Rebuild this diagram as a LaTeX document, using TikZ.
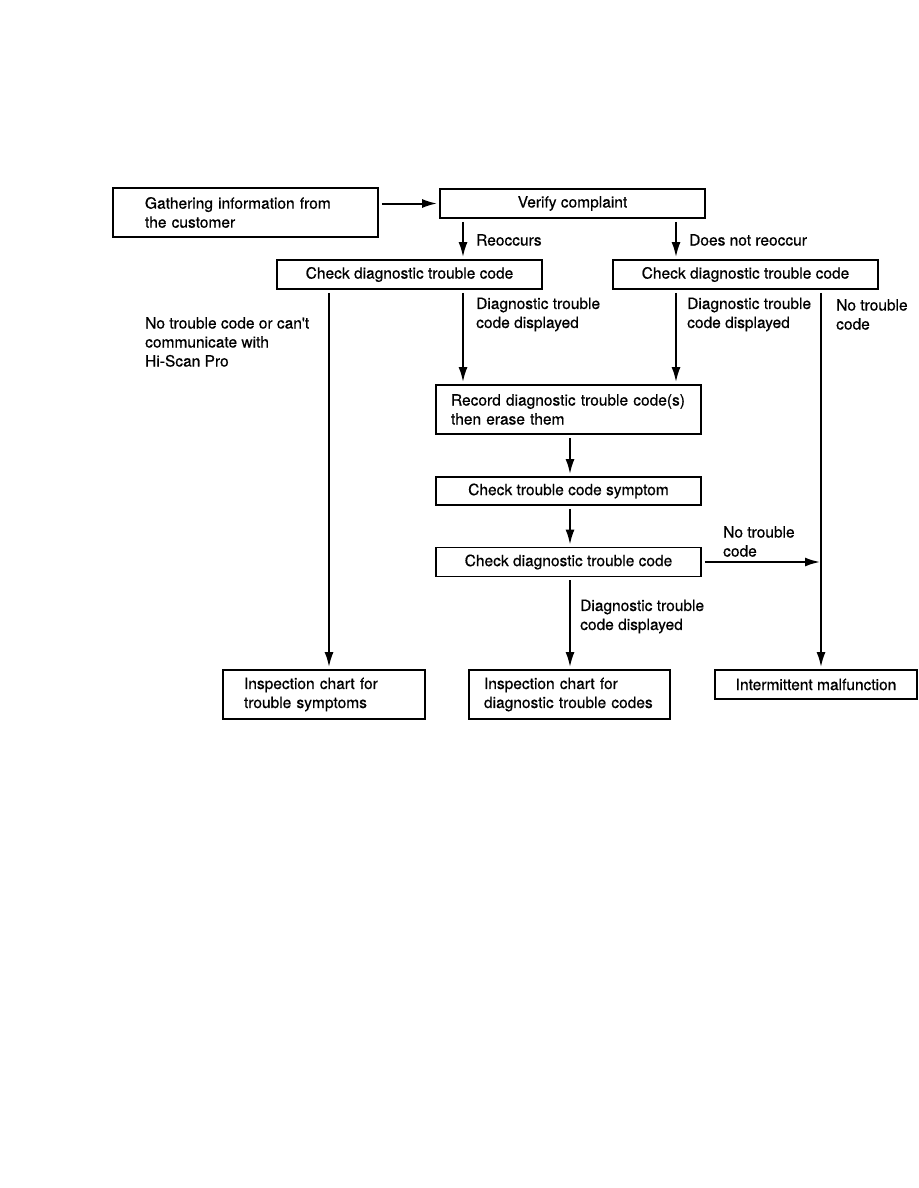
\documentclass[tikz,border=0pt]{standalone}
\usepackage{fontspec}
\setmainfont[FakeBold=0.6]{TeX Gyre Heros}
\usetikzlibrary{arrows.meta}
\tikzstyle{block} = [rectangle, draw, line width=1.8pt, minimum width=265pt,
    minimum height=29pt, inner sep=0pt, text centered]
\tikzstyle{wideblock} = [block, minimum height=49pt, align=left]
\tikzstyle{arrow} = [draw, -{Latex[length=15pt,width=9pt]}, line width=2pt,
    shorten >=2pt, shorten <=3pt]
\tikzstyle{lbl} = [anchor=west, align=left, inner sep=0pt]

\begin{document}
\begin{tikzpicture}[x=1pt, y=-1pt, font=\fontsize{15.5}{19}\selectfont]
			\useasboundingbox (0,0) rectangle (918,1188);
			% Place nodes
			\node [wideblock, text width=201pt, inner xsep=32pt] (gather) at (245.5,212.5) {Gathering information from\\the customer};
			\node [block] (verify) at (572.5,203.5) {Verify complaint};
			\node [block] (checkA) at (409.5,274.5) {Check diagnostic trouble code};
			\node [block] (checkB) at (745.5,274.5) {Check diagnostic trouble code};
			\node [wideblock, text width=235pt, inner xsep=15pt] (record) at (568.5,409.5) {Record diagnostic trouble code(s)\\then erase them};
			\node [block, minimum height=28pt] (symptom) at (568.5,491) {Check trouble code symptom};
			\node [block] (checkC) at (568.5,562) {Check diagnostic trouble code};
			\node [wideblock, minimum width=202pt, text width=160pt, inner xsep=21pt] (chartSymptoms) at (324,694.5) {Inspection chart for\\ trouble symptoms};
			\node [wideblock, minimum width=201pt, text width=171pt, inner xsep=15pt] (chartCodes) at (569.5,694.5) {Inspection chart for\\diagnostic trouble codes};
			\node [block, minimum width=202pt] (intermittent) at (816,684.5) {Intermittent malfunction};

			% Columns of the arrows
			\coordinate (colL) at (329,0);
			\coordinate (colR) at (463,0);
			\coordinate (colM) at (570,0);
			\coordinate (colN) at (676,0);
			\coordinate (colE) at (821,0);

			% Labels
			\node [lbl] (reoccurs) at (476,240) {Reoccurs};
			\node [lbl] (notReoccur) at (689,240) {Does not reoccur};
			\node [lbl] (noComm) at (145,342) {No trouble code or can\textquotesingle t\\communicate with\\Hi-Scan Pro};
			\node [lbl] (displayedA) at (476,314.5) {Diagnostic trouble\\code displayed};
			\node [lbl] (displayedB) at (687,314.5) {Diagnostic trouble\\code displayed};
			\node [lbl] (noCodeA) at (836,314.5) {No trouble\\code};
			\node [lbl] (noCodeB) at (723,541.5) {No trouble\\code};
			\node [lbl] (displayedC) at (580,616.5) {Diagnostic trouble\\code displayed};

			% Draw edges
			\path [arrow] (gather.east |- verify.west) -- (verify.west);
			\path [arrow] (verify.south -| colR) -- (checkA.north -| colR);
			\path [arrow] (verify.south -| colN) -- (checkB.north -| colN);
			\path [arrow] (checkA.south -| colL) -- (chartSymptoms.north -| colL);
			\path [arrow] (checkA.south -| colR) -- (record.north -| colR);
			\path [arrow] (checkB.south -| colN) -- (record.north -| colN);
			\path [arrow] (checkB.south -| colE) -- (intermittent.north -| colE);
			\path [arrow] (record.south -| colM) -- (symptom.north -| colM);
			\path [arrow] (symptom.south -| colM) -- (checkC.north -| colM);
			\path [arrow] (checkC.south -| colM) -- (chartCodes.north -| colM);
			\path [arrow, shorten >=1pt] (checkC.east) -- (checkC.east -| colE);
	\end{tikzpicture}
\end{document}
